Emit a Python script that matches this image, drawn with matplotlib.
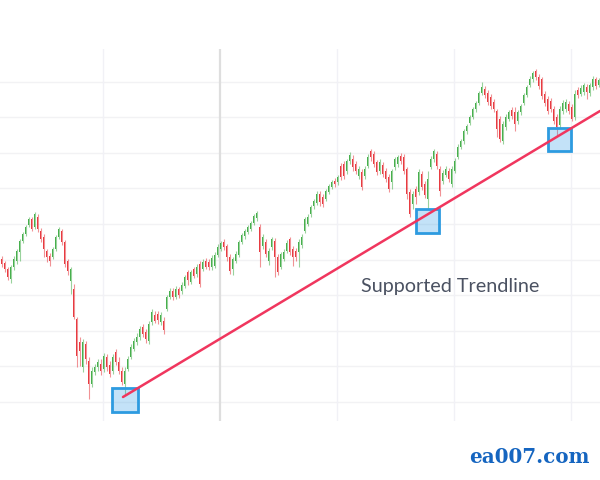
import matplotlib
matplotlib.use("Agg")
import matplotlib.pyplot as plt
from matplotlib.patches import Rectangle
import numpy as np

# ---------------- data (price units) ----------------
opens = [240, 236, 230, 220, 232, 238, 247, 258, 265, 274,
         280, 272, 282, 268, 262, 248, 243, 242, 250, 262,
         268, 257, 238, 218, 210, 180, 157, 132, 155, 138,
         115, 127, 132, 135, 130, 142, 134, 128, 147, 137,
         128, 115, 130, 142, 150, 157, 162, 172, 167, 158,
         177, 184, 185, 177, 178, 190, 202, 208, 202, 210,
         208, 213, 227, 217, 230, 225, 235, 230, 238, 237,
         232, 233, 244, 250, 257, 253, 242, 230, 238, 244,
         257, 263, 267, 270, 276, 281, 272, 253, 257, 238,
         252, 258, 242, 232, 240, 248, 260, 250, 248, 247,
         254, 268, 275, 285, 293, 296, 305, 302, 300, 307,
         312, 318, 317, 333, 335, 328, 338, 340, 335, 323,
         327, 323, 333, 348, 345, 337, 328, 334, 328, 322,
         317, 332, 335, 343, 342, 330, 307, 295, 310, 307,
         325, 315, 300, 332, 340, 345, 330, 318, 324, 328,
         315, 328, 342, 352, 358, 368, 376, 382, 390, 396,
         406, 410, 406, 402, 397, 388, 380, 358, 372, 380,
         389, 387, 378, 387, 396, 404, 414, 420, 428, 422,
         420, 405, 400, 398, 390, 382, 374, 388, 390, 395,
         392, 382, 409, 405, 407, 412, 406, 412, 420, 414]

closes = [235, 230, 222, 232, 240, 248, 258, 265, 272, 280,
          270, 285, 270, 260, 250, 242, 238, 250, 262, 270,
          257, 235, 228, 230, 182, 143, 148, 157, 140, 115,
          128, 132, 137, 128, 143, 132, 125, 142, 137, 128,
          117, 128, 140, 152, 158, 162, 170, 165, 160, 175,
          187, 178, 179, 184, 169, 202, 208, 202, 210, 204,
          214, 222, 219, 227, 223, 232, 215, 237, 232, 232,
          241, 244, 252, 256, 252, 242, 228, 240, 245, 257,
          264, 268, 272, 276, 283, 286, 247, 262, 245, 248,
          260, 242, 227, 245, 247, 256, 247, 242, 242, 257,
          262, 280, 282, 292, 298, 305, 297, 295, 308, 313,
          317, 315, 322, 322, 323, 338, 344, 332, 328, 330,
          312, 330, 342, 342, 335, 327, 337, 325, 320, 310,
          328, 340, 342, 338, 328, 305, 285, 305, 302, 327,
          312, 304, 320, 340, 348, 333, 308, 326, 330, 320,
          330, 338, 352, 358, 368, 373, 382, 390, 396, 406,
          412, 404, 397, 393, 390, 370, 360, 375, 382, 387,
          383, 375, 387, 393, 404, 412, 420, 426, 422, 413,
          403, 396, 388, 390, 378, 372, 390, 396, 397, 388,
          380, 405, 404, 411, 414, 407, 414, 420, 413, 419]

highs = [243, 238, 232, 234, 243, 250, 260, 267, 274, 282,
         282, 287, 285, 271, 265, 250, 246, 252, 264, 272,
         270, 259, 240, 232, 215, 182, 162, 160, 158, 142,
         132, 135, 140, 140, 146, 145, 138, 145, 150, 142,
         132, 132, 143, 155, 161, 166, 173, 175, 170, 178,
         190, 188, 188, 187, 182, 204, 211, 211, 213, 212,
         217, 224, 229, 229, 232, 235, 238, 240, 241, 240,
         244, 247, 255, 258, 260, 255, 245, 242, 248, 259,
         266, 270, 274, 278, 285, 288, 275, 265, 260, 251,
         262, 261, 245, 247, 250, 259, 262, 253, 251, 260,
         265, 282, 285, 294, 300, 308, 308, 305, 310, 315,
         319, 321, 324, 336, 338, 340, 347, 344, 338, 333,
         330, 333, 345, 350, 348, 339, 340, 337, 331, 325,
         330, 342, 344, 346, 345, 332, 310, 308, 313, 330,
         328, 318, 328, 343, 350, 348, 333, 329, 333, 331,
         333, 341, 355, 360, 370, 375, 384, 392, 398, 408,
         417, 413, 409, 405, 400, 390, 383, 378, 385, 389,
         392, 392, 389, 395, 406, 414, 423, 428, 430, 425,
         422, 408, 403, 401, 393, 385, 393, 399, 400, 398,
         395, 409, 412, 414, 416, 415, 416, 423, 422, 421]

lows = [232, 227, 219, 216, 229, 235, 238, 256, 263, 272,
        268, 270, 267, 257, 242, 237, 233, 240, 248, 260,
        254, 232, 224, 205, 180, 132, 133, 127, 135, 100,
        112, 124, 128, 124, 127, 128, 122, 125, 134, 125,
        114, 104, 128, 140, 148, 154, 159, 162, 156, 155,
        174, 176, 175, 174, 165, 188, 200, 199, 200, 201,
        205, 211, 214, 215, 221, 222, 212, 228, 230, 229,
        229, 231, 242, 248, 249, 238, 225, 224, 236, 242,
        255, 260, 265, 268, 274, 278, 232, 250, 242, 234,
        249, 222, 224, 230, 238, 246, 244, 233, 238, 232,
        251, 266, 273, 282, 290, 294, 293, 292, 298, 305,
        310, 312, 314, 319, 320, 325, 335, 328, 325, 320,
        309, 320, 331, 338, 332, 324, 325, 322, 317, 307,
        310, 329, 332, 335, 325, 300, 282, 290, 295, 304,
        309, 301, 290, 330, 337, 330, 303, 315, 322, 317,
        312, 326, 340, 350, 355, 365, 374, 380, 387, 394,
        404, 401, 394, 390, 387, 362, 357, 355, 369, 378,
        380, 368, 375, 384, 394, 402, 412, 417, 419, 410,
        400, 393, 385, 387, 375, 363, 371, 385, 387, 385,
        378, 379, 401, 403, 404, 400, 403, 409, 410, 412]

# support touches (candle index, price, width, height) and trendline anchors
trend_start = (40.5, 102)
trend_end = (199.5, 388)
touch_points = [(41.2, 99, 8.7, 24), (142.0, 278, 7.7, 24), (186.0, 359.5, 7.7, 23)]

label_text = "Supported Trendline"
watermark = "ea007.com"

# ---------------- drawing ----------------
W, H = 600, 481
fig = plt.figure(figsize=(W / 100, H / 100), dpi=100)
fig.patch.set_facecolor("white")
ax = fig.add_axes([0, 59 / H, 1, 372 / H])
ax.set_facecolor("none")

o = np.array(opens, float)
c = np.array(closes, float)
hi = np.array(highs, float)
lo = np.array(lows, float)
x = np.arange(len(c))

green = "#34a73a"
red = "#e5262d"
cols = np.where(c >= o, green, red)

ax.set_xlim(-0.5, len(c) - 0.5)
ax.set_ylim(78, 450)

# grid
for gy in np.arange(97, 440, 35.6):
    ax.axhline(gy, color="#f2f2f4", lw=1.0, zorder=0)
for gx in [33.83, 111.83, 150.83, 189.83]:
    ax.axvline(gx, color="#f1f1f6", lw=1.0, zorder=0)
ax.axvline(72.83, color="#dedede", lw=1.6, zorder=0)

ax.vlines(x, lo, hi, colors=cols, linewidth=0.8, alpha=0.5, zorder=3)
ax.bar(x, np.maximum(np.abs(c - o), 1.2), bottom=np.minimum(o, c), width=0.58,
       color=cols, alpha=0.9, linewidth=0, zorder=3)

for cx, cy, w, h in touch_points:
    ax.add_patch(Rectangle((cx - w / 2, cy - h / 2), w, h, facecolor="#3aa0e8",
                           alpha=0.3, edgecolor="none", zorder=4))
    ax.add_patch(Rectangle((cx - w / 2, cy - h / 2), w, h, facecolor="none",
                           edgecolor="#2d9be0", lw=2.0, zorder=4))

ax.plot([trend_start[0], trend_end[0]], [trend_start[1], trend_end[1]],
        color="#f0365e", lw=1.8, zorder=5, solid_capstyle="round")

for s in ax.spines.values():
    s.set_visible(False)
ax.set_xticks([])
ax.set_yticks([])

fig.text(361 / W, 1 - 287 / H, label_text, fontsize=14.2, family="Lato",
         color="#4b5262", ha="left", va="center")
fig.text(590 / W, 1 - 457 / H, watermark, fontsize=14.3, family="DejaVu Serif",
         weight="bold", color="#1565c0", ha="right", va="center")

fig.savefig("out.png", dpi=100, facecolor="white")
